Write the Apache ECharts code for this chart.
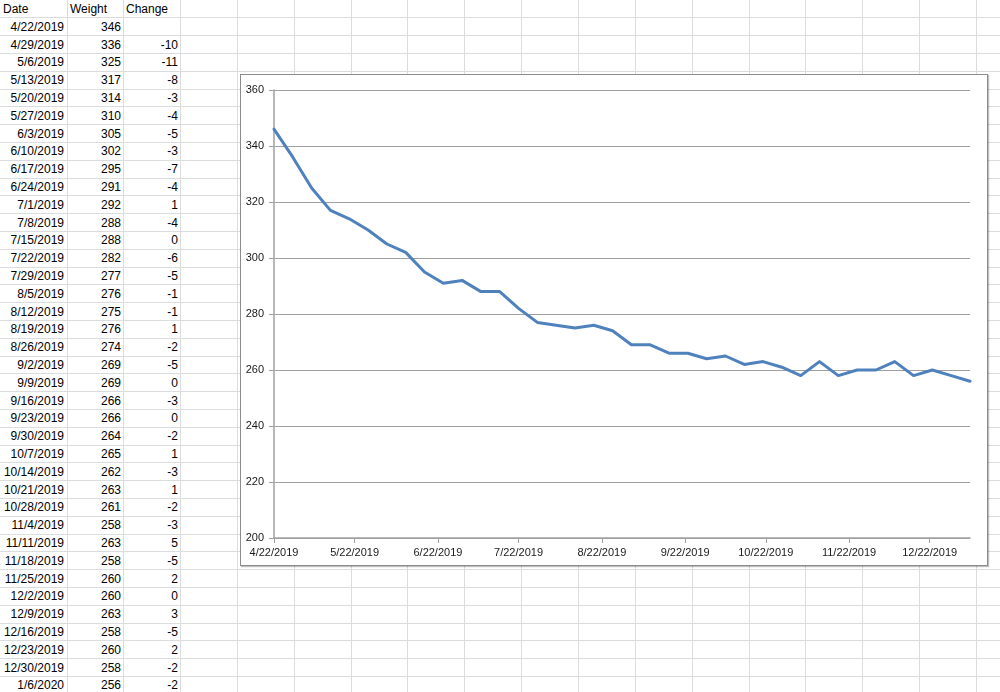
<!DOCTYPE html>
<html><head><meta charset="utf-8">
<script src="https://cdn.jsdelivr.net/npm/echarts@6/dist/echarts.min.js"></script>
<style>
html,body{margin:0;padding:0;width:1000px;height:692px;overflow:hidden;background:#fff;font-family:"Liberation Sans",Arial,sans-serif;}
#sheet{position:absolute;left:0;top:0;width:1000px;height:692px;}
.vl{position:absolute;top:0;width:1px;height:692px;background:#dadcdd;}
.hl{position:absolute;left:0;height:1px;width:1000px;background:#dadcdd;}
.c{position:absolute;font-size:12px;color:#000;line-height:17px;white-space:nowrap;}
#chart{position:absolute;left:240px;top:74px;width:746px;height:490px;background:#fff;border:1px solid #8c8c8c;box-shadow:1px 1px 1px rgba(0,0,0,0.25);}
</style></head>
<body>
<div id="sheet"></div>
<div id="chart"></div>
<script>
const headers = ["Date", "Weight", "Change"];
const dates = ["4/22/2019","4/29/2019","5/6/2019","5/13/2019","5/20/2019","5/27/2019","6/3/2019","6/10/2019","6/17/2019","6/24/2019","7/1/2019","7/8/2019","7/15/2019","7/22/2019","7/29/2019","8/5/2019","8/12/2019","8/19/2019","8/26/2019","9/2/2019","9/9/2019","9/16/2019","9/23/2019","9/30/2019","10/7/2019","10/14/2019","10/21/2019","10/28/2019","11/4/2019","11/11/2019","11/18/2019","11/25/2019","12/2/2019","12/9/2019","12/16/2019","12/23/2019","12/30/2019","1/6/2020"];
const weights = [346,336,325,317,314,310,305,302,295,291,292,288,288,282,277,276,275,276,274,269,269,266,266,264,265,262,263,261,258,263,258,260,260,263,258,260,258,256];
const changes = ["",-10,-11,-8,-3,-4,-5,-3,-7,-4,1,-4,0,-6,-5,-1,-1,1,-2,-5,0,-3,0,-2,1,-3,1,-2,-3,5,-5,2,0,3,-5,2,-2,-2];
const xTickDates = ["4/22/2019","5/22/2019","6/22/2019","7/22/2019","8/22/2019","9/22/2019","10/22/2019","11/22/2019","12/22/2019"];
const yTicks = [200,220,240,260,280,300,320,340,360];

function toTs(s){ const p = s.split('/').map(Number); return new Date(p[2], p[0]-1, p[1]).getTime(); }
function fmt(ts){ const d = new Date(ts); return (d.getMonth()+1)+'/'+d.getDate()+'/'+d.getFullYear(); }

// spreadsheet grid
const sheet = document.getElementById('sheet');
const ROW = 17.8;
const colX = [67, 123];
for (let k = 0; k < 17; k++) colX.push(Math.round(180 + k*56.85));
colX.forEach(x => { const d = document.createElement('div'); d.className='vl'; d.style.left = x+'px'; sheet.appendChild(d); });
for (let r = 1; r <= 39; r++) { const d = document.createElement('div'); d.className='hl'; d.style.top = Math.round(r*ROW - 0.5)+'px'; sheet.appendChild(d); }
function cell(text, x, row, align, w){
  const d = document.createElement('div'); d.className='c'; d.textContent = text;
  d.style.top = (row*ROW + 1) + 'px';
  if (align === 'right') { d.style.left = (x - w) + 'px'; d.style.width = w+'px'; d.style.textAlign='right'; }
  else d.style.left = x + 'px';
  sheet.appendChild(d);
}
cell(headers[0], 3, 0, 'left'); cell(headers[1], 70, 0, 'left'); cell(headers[2], 126, 0, 'left');
dates.forEach((t,i)=>{
  cell(t, 64, i+1, 'right', 64);
  cell(String(weights[i]), 121, i+1, 'right', 54);
  cell(String(changes[i]), 178, i+1, 'right', 54);
});

// chart
const chart = echarts.init(document.getElementById('chart'), null, {renderer:'canvas'});
const seriesData = dates.map((d,i)=>[toTs(d), weights[i]]);
const tickTs = xTickDates.map(toTs);
const txt = {color:'#1a1a1a', fontSize:11, fontFamily:'"Liberation Sans", Arial, sans-serif'};
chart.setOption({
  animation:false,
  grid:{left:33, top:15, right:17, bottom:27, containLabel:false},
  xAxis:{
    type:'value',
    min: toTs(dates[0]), max: toTs(dates[dates.length-1]),
    axisLine:{show:true, lineStyle:{color:'#a0a0a0', width:1.5}},
    axisTick:{show:true, inside:false, length:5, customValues: tickTs, lineStyle:{color:'#a0a0a0'}},
    axisLabel:Object.assign({customValues: tickTs, margin:9, formatter: v => fmt(v), showMinLabel:true, showMaxLabel:true}, txt),
    splitLine:{show:false}
  },
  yAxis:{
    type:'value', min:yTicks[0], max:yTicks[yTicks.length-1], interval:20,
    axisLine:{show:true, lineStyle:{color:'#a0a0a0', width:1.5}},
    axisTick:{show:true, inside:false, length:5, lineStyle:{color:'#a0a0a0'}},
    axisLabel:Object.assign({margin:10}, txt),
    splitLine:{show:true, lineStyle:{color:'#a0a0a0', width:1.2}}
  },
  series:[{
    type:'line', data: seriesData, symbol:'none', smooth:false,
    lineStyle:{color:'#4f81bd', width:3, join:'round', cap:'round'}
  }]
});
</script>
</body></html>
